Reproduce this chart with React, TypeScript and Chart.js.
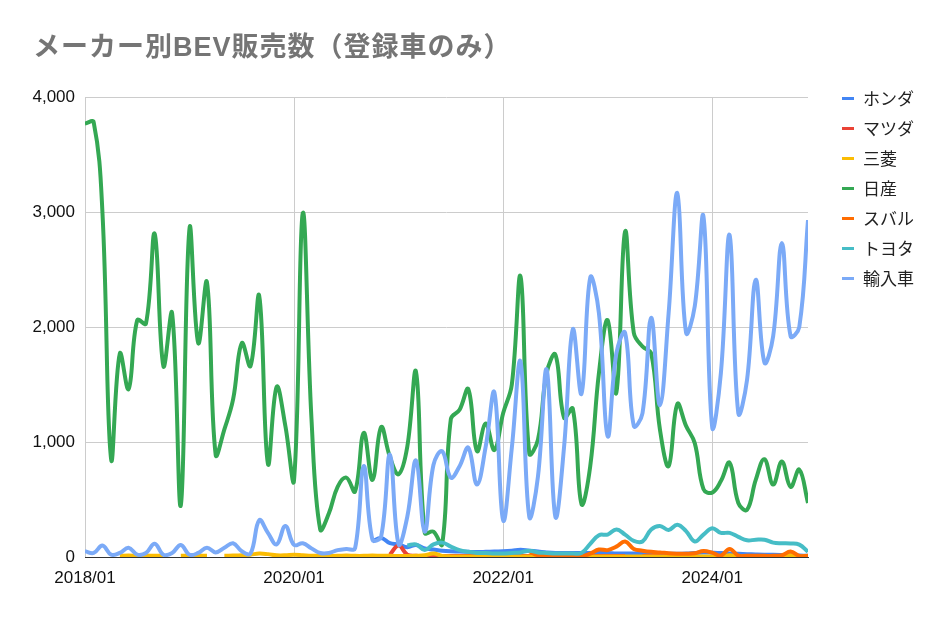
import React, { useEffect, useRef } from "react";
import { Chart, registerables } from "chart.js";

Chart.register(...registerables);

// months 2018/01 .. 2024/12
const months: string[] = [];
for (let y = 2018; y <= 2024; y++) {
  for (let m = 1; m <= 12; m++) months.push(`${y}/${String(m).padStart(2, "0")}`);
}

const xTickLabels = ["2018/01", "2020/01", "2022/01", "2024/01"];
const yMax = 4000;
const yStep = 1000;

const N = null;

const honda = [
  N, N, N, N, N, N, N, N, N, N, N, N,
  N, N, N, N, N, N, N, N, N, N, N, N,
  N, N, N, N, N, N, N, N, N, 135, 165, 120,
  110, 85, 105, 75, 65, 55, 50, 48, 45, 43, 45, 48,
  50, 55, 63, 55, 48, 40, 35, 35, 35, 35, 35, 35,
  35, 30, 30, 30, 30, 30, 30, 28, 28, 30, 35, 40,
  38, 35, 30, 28, 25, 22, 20, 20, 18, 15, 12, 10,
];

const mazda = [
  N, N, N, N, N, N, N, N, N, N, N, N,
  N, N, N, N, N, N, N, N, N, N, N, N,
  N, N, N, N, N, N, N, N, N, N, N, 20,
  100, 20, 10, 8, 8, 8, 8, 8, 8, 8, 8, 8,
  8, 8, 8, 8, 8, 8, 8, 8, 8, 8, 8, 8,
  8, 8, 8, N, 8, 8, 8, N, N, N, N, N,
  N, N, N, N, N, N, N, N, N, N, N, N,
];

const mitsubishi = [
  N, N, N, N, 10, 12, 10, 12, 10, 10, N, 10,
  12, 10, 10, N, 10, 12, 15, 20, 30, 25, 15, 15,
  20, 15, 10, 12, 10, 10, 12, 10, 10, 12, 10, 10,
  8, 8, 10, 15, 30, 10, 5, 5, 5, 5, 5, 5,
  5, 5, 5, 5, 5, 5, 5, 5, 5, 5, 5, 5,
  5, 5, 5, 5, 5, 5, 5, 5, 5, 5, 5, 5,
  5, 5, 15, 5, 5, 5, 5, 5, 5, 15, 5, 5,
];

const nissan = [
  3770, 3780, 3000, 850, 1770, 1460, 2060, 2030, 2810, 1660, 2120, 450,
  2860, 1860, 2390, 890, 1110, 1370, 1860, 1660, 2270, 810, 1480, 1140,
  670, 2990, 1200, 240, 380, 610, 690, 570, 1080, 670, 1130, 870,
  720, 960, 1610, 210, 220, 110, 1200, 1280, 1460, 920, 1160, 930,
  1250, 1500, 2440, 900, 1020, 1600, 1760, 1210, 1290, 460, 790, 1600,
  2060, 1430, 2830, 1950, 1830, 1770, 1110, 790, 1330, 1140, 990, 590,
  560, 660, 820, 470, 410, 670, 850, 630, 830, 610, 760, 470,
];

const subaru = [
  N, N, N, N, N, N, N, N, N, N, N, N,
  N, N, N, N, N, N, N, N, N, N, N, N,
  N, N, N, N, N, N, N, N, N, N, N, N,
  N, N, N, N, N, N, N, N, N, N, N, N,
  N, N, N, 50, 15, 10, 10, 10, 5, 5, 30, 65,
  60, 90, 135, 70, 55, 45, 40, 32, 29, 29, 33, 52,
  38, 12, 70, 12, 10, 10, 10, 10, 15, 48, 10, 10,
];

const toyota = [
  N, N, N, N, N, N, N, N, N, N, N, N,
  N, N, N, N, N, N, N, N, N, N, N, N,
  N, N, N, N, N, N, N, N, N, N, N, N,
  N, 100, 110, 60, 110, 125, 90, 60, 45, 35, 35, 30,
  30, 35, 40, 55, 40, 35, 30, 30, 30, 35, 115, 190,
  195, 240, 195, 140, 135, 240, 270, 235, 280, 225, 135, 195,
  250, 210, 210, 175, 145, 150, 150, 125, 120, 118, 108, 45,
];

const imports = [
  50, 35, 100, 20, 35, 80, 20, 35, 115, 20, 35, 105,
  20, 35, 80, 40, 80, 120, 50, 30, 320, 210, 110, 270,
  105, 120, 75, 35, 35, 60, 70, 75, 790, 150, 180, 890,
  110, 350, 840, 220, 800, 920, 690, 790, 950, 630, 960, 1430,
  320, 950, 1700, 350, 700, 1630, 350, 960, 1980, 1420, 2430, 2120,
  1050, 1770, 1950, 1140, 1250, 2080, 1320, 2120, 3165, 1950, 2180, 2960,
  1130, 1600, 2800, 1250, 1540, 2410, 1690, 1920, 2730, 1920, 2000, 2930,
];

const seriesNames = ["ホンダ", "マツダ", "三菱", "日産", "スバル", "トヨタ", "輸入車"];
const seriesColors = ["#4285F4", "#EA4335", "#FBBC04", "#34A853", "#FF6D01", "#46BDC6", "#7BAAF7"];
const seriesValues = [honda, mazda, mitsubishi, nissan, subaru, toyota, imports];

const title = "メーカー別BEV販売数（登録車のみ）";

const axisFont = { family: "'Liberation Sans', Arial, sans-serif", size: 17 };

const App: React.FC = () => {
  const canvasRef = useRef<HTMLCanvasElement | null>(null);
  const chartRef = useRef<Chart | null>(null);

  useEffect(() => {
    const ctx = canvasRef.current?.getContext("2d");
    if (!ctx) return;
    chartRef.current?.destroy();

    chartRef.current = new Chart(ctx, {
      type: "line",
      data: {
        labels: months,
        datasets: seriesNames.map((name, i) => ({
          label: name,
          data: seriesValues[i],
          borderColor: seriesColors[i],
          backgroundColor: seriesColors[i],
          borderWidth: 4,
          pointRadius: 0,
          tension: 0.4,
          fill: false,
          order: seriesNames.length - i,
          clip: 0,
        })),
      },
      options: {
        responsive: false,
        animation: false,
        layout: { padding: { left: 0, top: 97, right: 139, bottom: 0 } },
        plugins: {
          legend: { display: false },
          title: { display: false },
          tooltip: { enabled: false },
        },
        scales: {
          x: {
            type: "category",
            offset: false,
            grid: {
              drawTicks: false,
              color: (c: any) =>
                xTickLabels.includes(months[c.index]) ? "#cccccc" : "rgba(0,0,0,0)",
            },
            border: { color: "#333333", width: 1 },
            ticks: {
              autoSkip: false,
              maxRotation: 0,
              padding: 11,
              color: "#111111",
              font: axisFont,
              callback: (_v: any, idx: number) =>
                xTickLabels.includes(months[idx]) ? months[idx] : "",
            },
            afterFit: (s: any) => {
              s.height = 62;
            },
          },
          y: {
            min: 0,
            max: yMax,
            grid: { drawTicks: false, color: "#cccccc" },
            border: { display: false },
            ticks: {
              stepSize: yStep,
              padding: 10,
              color: "#111111",
              font: axisFont,
              callback: (v: any) => Number(v).toLocaleString("en-US"),
            },
            afterFit: (s: any) => {
              s.width = 85;
            },
          },
        },
      },
    });

    return () => {
      chartRef.current?.destroy();
      chartRef.current = null;
    };
  }, []);

  return (
    <div
      style={{
        position: "fixed",
        left: 0,
        top: 0,
        width: 947,
        height: 619,
        background: "#fff",
        overflow: "hidden",
      }}
    >
      <canvas ref={canvasRef} width={947} height={619} style={{ position: "absolute", left: 0, top: 0 }} />
      <div
        style={{
          position: "absolute",
          left: 33,
          top: 32,
          height: 30,
          lineHeight: "30px",
          fontFamily: "'Liberation Sans', 'Noto Sans CJK JP', sans-serif",
          fontWeight: 700,
          fontSize: 27,
          letterSpacing: 1,
          color: "#757575",
          whiteSpace: "nowrap",
        }}
      >
        {title}
      </div>
      <div style={{ position: "absolute", left: 842, top: 83 }}>
        {seriesNames.map((name, i) => (
          <div key={name} style={{ height: 30, display: "flex", alignItems: "center" }}>
            <span style={{ display: "inline-block", width: 12, height: 3, background: seriesColors[i] }} />
            <span
              style={{
                marginLeft: 9,
                fontFamily: "'Noto Sans CJK JP', sans-serif",
                fontSize: 17,
                lineHeight: "20px",
                color: "#222222",
                whiteSpace: "nowrap",
              }}
            >
              {name}
            </span>
          </div>
        ))}
      </div>
    </div>
  );
};

export default App;
